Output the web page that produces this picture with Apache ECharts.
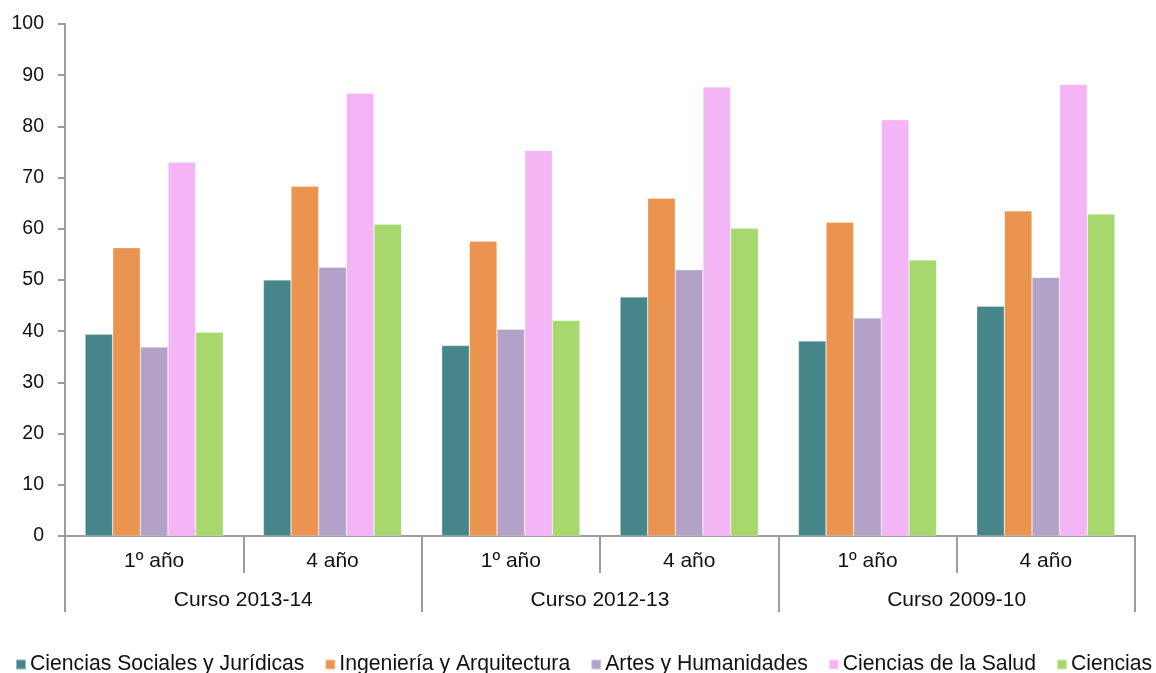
<!DOCTYPE html>
<html>
<head>
<meta charset="utf-8">
<script src="https://cdn.jsdelivr.net/npm/echarts@6/dist/echarts.min.js"></script>
<style>
html,body{margin:0;padding:0;background:#fff;}
#chart{width:1156px;height:673px;}
</style>
</head>
<body>
<div id="chart"></div>
<script>
var subCategories = ['1º año', '4 año', '1º año', '4 año', '1º año', '4 año'];
var courses = ['Curso 2013-14', 'Curso 2012-13', 'Curso 2009-10'];
var yTicks = [0, 10, 20, 30, 40, 50, 60, 70, 80, 90, 100];

var seriesNames = ['Ciencias Sociales y Jurídicas', 'Ingeniería y Arquitectura', 'Artes y Humanidades', 'Ciencias de la Salud', 'Ciencias'];
var socialesJuridicas = [39.4, 50.0, 37.2, 46.7, 38.1, 44.9];
var ingenieriaArquitectura = [56.3, 68.3, 57.6, 66.0, 61.3, 63.5];
var artesHumanidades = [36.9, 52.5, 40.4, 52.0, 42.6, 50.5];
var cienciasSalud = [73.0, 86.5, 75.3, 87.7, 81.3, 88.2];
var ciencias = [39.8, 60.9, 42.1, 60.1, 53.9, 62.9];

var seriesValues = [socialesJuridicas, ingenieriaArquitectura, artesHumanidades, cienciasSalud, ciencias];
var colors = ['#468589', '#EB944F', '#B3A2C7', '#F4B5F6', '#A6D86E'];

var font = 'Liberation Sans, Arial, sans-serif';
var axisGray = '#9c9c9c';
var textColor = '#111';

var chart = echarts.init(document.getElementById('chart'), null, {renderer: 'canvas'});

var series = seriesNames.map(function (name, i) {
  return {
    name: name,
    type: 'bar',
    xAxisIndex: 0,
    yAxisIndex: 0,
    data: seriesValues[i],
    barGap: '0%',
    barCategoryGap: '22.5%',
    itemStyle: {color: colors[i], borderColor: 'rgba(255,255,255,0.45)', borderWidth: 0.6},
    emphasis: {disabled: true},
    animation: false
  };
});

chart.setOption({
  animation: false,
  color: colors,
  grid: {left: 65, right: 21, top: 24, bottom: 137, containLabel: false},
  legend: {
    data: seriesNames,
    left: 15,
    top: 654,
    width: 1400,
    padding: 0,
    itemGap: 20,
    itemWidth: 10,
    itemHeight: 10,
    icon: 'rect',
    textStyle: {fontFamily: font, fontSize: 21.2, color: textColor, padding: [0, 0, 0, -1]}
  },
  xAxis: [
    {
      type: 'category',
      position: 'bottom',
      data: subCategories,
      axisLine: {show: true, lineStyle: {color: axisGray, width: 2}},
      axisTick: {show: true, length: 37, alignWithLabel: false, lineStyle: {color: axisGray, width: 2}},
      axisLabel: {fontFamily: font, fontSize: 21, color: textColor, margin: 14.5, interval: 0},
      splitLine: {show: false}
    },
    {
      type: 'category',
      position: 'bottom',
      data: courses,
      axisLine: {show: false},
      axisTick: {show: true, length: 76, lineStyle: {color: axisGray, width: 2}},
      axisLabel: {fontFamily: font, fontSize: 21, color: textColor, margin: 53.5, interval: 0},
      splitLine: {show: false}
    }
  ],
  yAxis: {
    type: 'value',
    min: yTicks[0],
    max: yTicks[yTicks.length - 1],
    interval: yTicks[1] - yTicks[0],
    axisLine: {show: true, lineStyle: {color: axisGray, width: 2}},
    axisTick: {show: true, length: 7, lineStyle: {color: axisGray, width: 2}},
    axisLabel: {fontFamily: font, fontSize: 19.5, color: textColor, margin: 21},
    splitLine: {show: false}
  },
  series: series
});
</script>
</body>
</html>
